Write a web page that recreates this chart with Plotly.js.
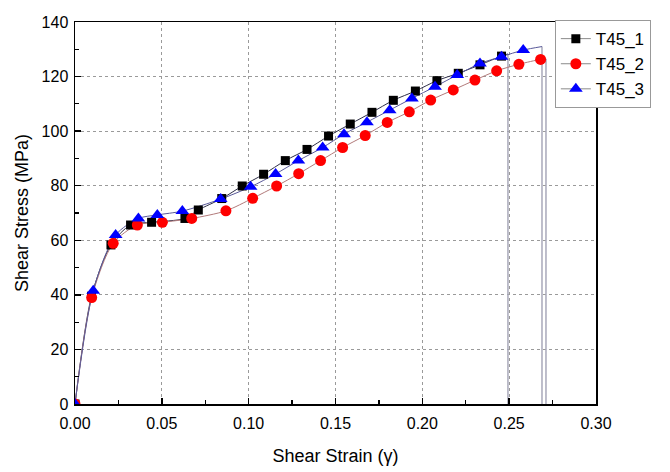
<!DOCTYPE html>
<html>
<head>
<meta charset="utf-8">
<script src="https://cdn.plot.ly/plotly-3.0.1.min.js"></script>
<style>html,body{margin:0;padding:0;background:#fff;}#chart{width:670px;height:472px;}</style>
</head>
<body>
<div id="chart"></div>
<script>
// Series names
const seriesNames = ["T45_1", "T45_2", "T45_3"];

// T45_1 (black squares)
const t1Strain = [0, 0.0095, 0.0207, 0.032, 0.0441, 0.0633, 0.071, 0.0845, 0.0963, 0.1086, 0.1211, 0.1336, 0.146, 0.1585, 0.171, 0.1833, 0.196, 0.2084, 0.2207, 0.2332, 0.2456];
const t1Stress = [0, 39.5, 58.3, 65.6, 66.6, 68.0, 71.1, 75.3, 79.9, 84.2, 89.2, 93.3, 98.2, 102.6, 106.9, 111.3, 114.7, 118.5, 121.2, 124.3, 127.5];
const t1EndStrain = 0.2493, t1EndStress = 128.3;

// T45_2 (red circles)
const t2Strain = [0, 0.0096, 0.022, 0.0359, 0.0503, 0.0672, 0.0869, 0.1023, 0.1161, 0.1288, 0.1414, 0.1541, 0.1671, 0.1798, 0.1925, 0.2048, 0.2178, 0.2303, 0.2428, 0.2556, 0.2681];
const t2Stress = [0, 39.0, 58.9, 65.6, 66.6, 68.0, 70.8, 75.4, 79.9, 84.4, 89.2, 94.0, 98.4, 103.2, 107.1, 111.4, 115.1, 118.7, 122.1, 124.5, 126.3];
const t2EndStrain = 0.2712, t2EndStress = 126.5;

// T45_3 (blue triangles)
const t3Strain = [0, 0.0105, 0.0234, 0.0365, 0.0474, 0.0618, 0.0839, 0.1011, 0.1155, 0.1286, 0.1426, 0.1549, 0.1681, 0.1812, 0.194, 0.2073, 0.2201, 0.2332, 0.2456, 0.2581];
const t3Stress = [0, 41.5, 61.9, 68.0, 69.3, 70.7, 75.1, 79.6, 84.3, 89.2, 94.0, 98.9, 103.3, 107.7, 112.0, 116.3, 120.6, 124.8, 127.3, 129.7];
const t3EndStrain = 0.2689, t3EndStress = 131.0;

// Axis ticks
const xTicks = [0, 0.05, 0.10, 0.15, 0.20, 0.25, 0.30];
const yTicks = [0, 20, 40, 60, 80, 100, 120, 140];

const FONT = "Arial, 'Liberation Sans', sans-serif";
const series = [
  {name: seriesNames[0], x: t1Strain, y: t1Stress, ex: t1EndStrain, ey: t1EndStress, mc: "#000000", lc: "#2e2e48", sym: "square", ms: 9},
  {name: seriesNames[1], x: t2Strain, y: t2Stress, ex: t2EndStrain, ey: t2EndStress, mc: "#ff0000", lc: "#b27a7a", sym: "circle", ms: 11},
  {name: seriesNames[2], x: t3Strain, y: t3Stress, ex: t3EndStrain, ey: t3EndStress, mc: "#0000ff", lc: "#5a5a9a", sym: "triangle-up", ms: 12}
];

const traces = [];
// drop lines (fracture)
series.forEach(s => {
  traces.push({x: [s.ex, s.ex], y: [s.ey, 0], mode: "lines", line: {color: "#a9a9ba", width: 1.5}, showlegend: false, hoverinfo: "skip"});
});
// curves
series.forEach(s => {
  traces.push({x: s.x.concat([s.ex]), y: s.y.concat([s.ey]), mode: "lines", line: {color: s.lc, width: 1, shape: "spline", smoothing: 0.8}, showlegend: false, hoverinfo: "skip"});
});
// markers
series.forEach(s => {
  traces.push({x: s.x, y: s.y, mode: "markers", marker: {symbol: s.sym, size: s.ms, color: s.mc, line: {width: 0}}, showlegend: false, cliponaxis: true});
});
// legend entries
series.forEach(s => {
  traces.push({x: [null], y: [null], name: s.name, mode: "lines+markers", marker: {symbol: s.sym, size: s.ms, color: s.mc}, line: {color: "#8a8a8a", width: 1}});
});

const layout = {
  width: 670, height: 472,
  margin: {l: 75, r: 74, t: 22, b: 68},
  paper_bgcolor: "#ffffff", plot_bgcolor: "#ffffff",
  font: {family: FONT, size: 15, color: "#000"},
  showlegend: true,
  legend: {x: 0.921, y: 1.005, xanchor: "left", yanchor: "top", bgcolor: "#ffffff", bordercolor: "#999999", borderwidth: 1, font: {family: FONT, size: 17, color: "#000"}, itemwidth: 30, tracegroupgap: 0},
  xaxis: {
    range: [0, 0.30], tickvals: xTicks, ticktext: xTicks.map(v => v.toFixed(2)),
    ticks: "inside", ticklen: 6, tickwidth: 1.5, tickcolor: "#000",
    minor: {dtick: 0.025, ticks: "inside", ticklen: 4, tickwidth: 1.2, tickcolor: "#000", showgrid: false},
    showline: true, linecolor: "#000", linewidth: 1.5, mirror: true,
    showgrid: true, gridcolor: "#9a9a9a", gridwidth: 1, griddash: "3px,3px",
    zeroline: false, tickfont: {family: FONT, size: 16}, ticklabelstandoff: 4,
    title: {text: "Shear Strain (γ)", font: {family: FONT, size: 18}, standoff: 18}
  },
  yaxis: {
    range: [0, 140], tickvals: yTicks,
    ticks: "inside", ticklen: 6, tickwidth: 1.5, tickcolor: "#000",
    minor: {dtick: 10, ticks: "inside", ticklen: 4, tickwidth: 1.2, tickcolor: "#000", showgrid: false},
    showline: true, linecolor: "#000", linewidth: 1.5, mirror: true,
    showgrid: true, gridcolor: "#9a9a9a", gridwidth: 1, griddash: "3px,3px",
    zeroline: false, tickfont: {family: FONT, size: 16}, ticklabelstandoff: 2,
    title: {text: "Shear Stress (MPa)", font: {family: FONT, size: 18}, standoff: 8}
  }
};

Plotly.newPlot("chart", traces, layout, {displayModeBar: false, staticPlot: true});
</script>
</body>
</html>
